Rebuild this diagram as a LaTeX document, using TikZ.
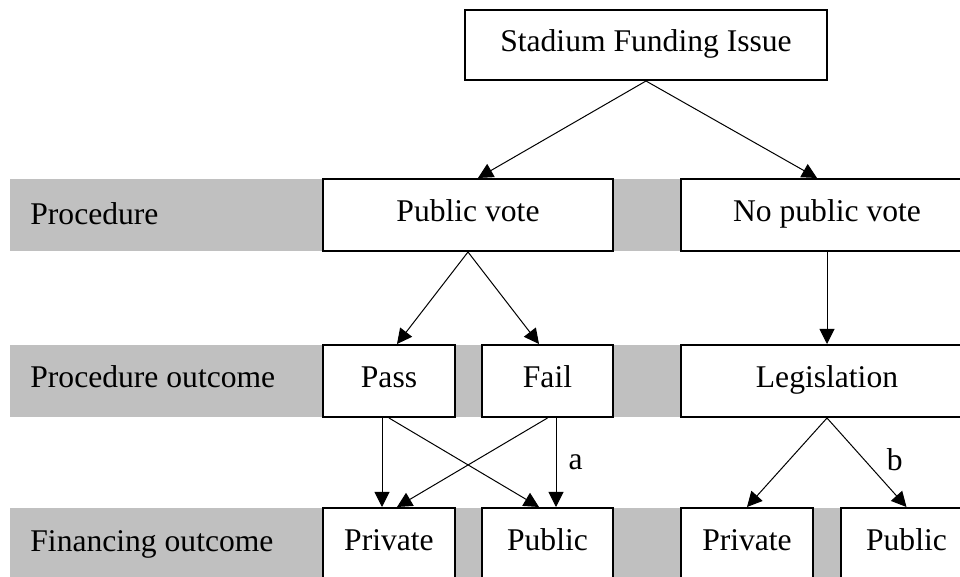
\documentclass[tikz,border=0pt]{standalone}
\usepackage{fontspec}
\setmainfont{Liberation Serif}
\usetikzlibrary{arrows.meta}
\definecolor{bandgray}{HTML}{C0C0C0}
\begin{document}
\begin{tikzpicture}[x=0.5pt,y=-0.5pt,
  txt/.style={font=\fontsize{15.8}{18}\selectfont},
  box/.style={txt,draw,line width=1pt,fill=white,inner sep=0pt,minimum height=36pt,text height=0.95em,text depth=0.25em},
  rowlabel/.style={txt,anchor=base west,inner sep=0pt},
  band/.style={fill=bandgray,draw=none},
  arr/.style={line width=0.5pt,-{Triangle[length=7.5pt,width=7.5pt]}},
  edgelab/.style={txt,anchor=west,inner sep=0pt}
]
\useasboundingbox (0,0) rectangle (960,577);
\clip (0,0) rectangle (960,577);
% bands
\fill[band] (10,179) rectangle (980,251);
\fill[band] (10,345) rectangle (980,417);
\fill[band] (10,508) rectangle (980,580);
% row labels
\node[rowlabel] (l1) at (30,225) {Procedure};
\node[rowlabel] (l2) at (30,388) {Procedure outcome};
\node[rowlabel] (l3) at (30,552) {Financing outcome};
% boxes
\node[box,minimum width=181pt,minimum height=35pt] (top) at (646,45) {Stadium Funding Issue};
\node[box,minimum width=145pt] (pv) at (468,215) {Public vote};
\node[box,minimum width=146pt] (npv) at (827,215) {No public vote};
\node[box,minimum width=66pt] (pass) at (389,381) {Pass};
\node[box,minimum width=65.5pt] (fail) at (547.5,381) {Fail};
\node[box,minimum width=146pt] (leg) at (827,381) {Legislation};
\node[box,minimum width=66pt] (priv1) at (389,544) {Private};
\node[box,minimum width=65.5pt] (pub1) at (547.5,544) {Public};
\node[box,minimum width=66pt] (priv2) at (747,544) {Private};
\node[box,minimum width=66pt] (pub2) at (906.5,544) {Public};
% connectors
\draw[arr] (top.south) -- ([xshift=5pt]pv.north);
\draw[arr] (top.south) -- ([xshift=-5pt]npv.north);
\draw[arr] (pv.south) -- ([xshift=4pt]pass.north);
\draw[arr] (pv.south) -- ([xshift=-4.25pt]fail.north);
\draw[arr] (npv.south) -- (leg.north);
\draw[arr] ([xshift=-3.5pt]pass.south) -- ([xshift=-3.5pt]priv1.north);
\draw[arr] (pass.south) -- ([xshift=-4.25pt]pub1.north);
\draw[arr] (fail.south) -- ([xshift=4pt]priv1.north);
\draw[arr] ([xshift=4.25pt]fail.south) -- ([xshift=4.25pt]pub1.north)
  node[edgelab,pos=0.5,xshift=6pt] (la) {a};
\draw[arr] (leg.south) -- (priv2.north);
\draw[arr] (leg.south) -- (pub2.north)
  node[edgelab,pos=0.47,xshift=11pt] (lb) {b};
\end{tikzpicture}
\end{document}
